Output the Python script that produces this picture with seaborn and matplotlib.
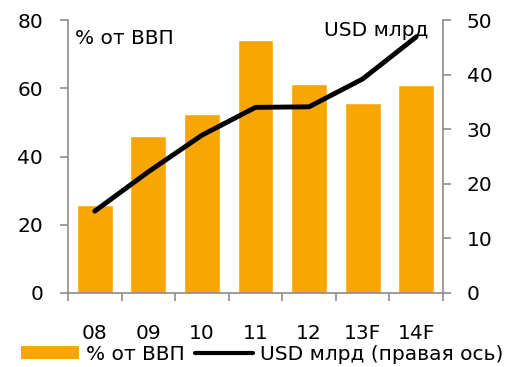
import numpy as np
import pandas as pd
import seaborn as sns
import matplotlib.pyplot as plt
from matplotlib.patches import Patch
from matplotlib.lines import Line2D

# data
years = ['08', '09', '10', '11', '12', '13F', '14F']
pct_gdp = [25.8, 46.0, 52.5, 74.2, 61.3, 55.7, 61.0]
usd_bn = [15.0, 22.2, 28.9, 34.0, 34.1, 39.2, 46.9]

orange = '#F9A602'
grey = '#8c8c8c'

sns.set_theme(style='white')
plt.rcParams['font.family'] = ['DejaVu Sans']
plt.rcParams['font.size'] = 11
plt.rcParams['text.color'] = 'black'
plt.rcParams['xtick.color'] = 'black'
plt.rcParams['ytick.color'] = 'black'

fs = 14.5

df = pd.DataFrame({'year': years, 'pct': pct_gdp, 'usd': usd_bn})

fig = plt.figure(figsize=(5.19, 3.67), dpi=100)
ax = fig.add_axes([68 / 519, 1 - 293 / 367, 375 / 519, 273 / 367])

sns.barplot(data=df, x='year', y='pct', color=orange, saturation=1,
            width=0.67, ax=ax)
ax.set_ylim(0, 80)
ax.set_yticks([0, 20, 40, 60, 80])
ax.set_xlim(-0.5, len(years) - 0.5)
ax.set_xlabel('')
ax.set_ylabel('')

ax2 = ax.twinx()
sns.lineplot(x=np.arange(len(years)), y=df['usd'], color='black',
             linewidth=3.5, ax=ax2)
ax2.set_ylim(0, 50)
ax2.set_yticks([0, 10, 20, 30, 40, 50])
ax2.set_ylabel('')
ax2.set_xlim(-0.5, len(years) - 0.5)

for a in (ax, ax2):
    for s in a.spines.values():
        s.set_visible(False)
ax.spines['left'].set_visible(True)
ax.spines['bottom'].set_visible(True)
ax2.spines['right'].set_visible(True)
for s in (ax.spines['left'], ax.spines['bottom'], ax2.spines['right']):
    s.set_color(grey)
    s.set_linewidth(1.2)

# category labels centred, tick marks between categories
ax.set_xticks(range(len(years)))
ax.set_xticklabels(years)
ax.set_xticks(np.arange(-0.5, len(years)), minor=True)
ax.tick_params(axis='x', which='major', length=0, pad=22, labelsize=fs,
               labelcolor='black')
ax.tick_params(axis='x', which='minor', length=6, width=1.2, color=grey,
               direction='out', bottom=True)
ax.tick_params(axis='y', length=6, width=1.2, color=grey, direction='out',
               left=True, pad=12, labelsize=fs, labelcolor='black')
ax2.tick_params(axis='y', length=6, width=1.2, color=grey, direction='out',
                right=True, pad=11, labelsize=fs, labelcolor='black')

ax.text(7 / 375, 1 - 18 / 273, '% от ВВП', transform=ax.transAxes,
        fontsize=fs, ha='left', va='center', color='black')
ax2.text(360 / 375, 1 - 11 / 273, 'USD млрд', transform=ax.transAxes,
         fontsize=fs, ha='right', va='center', color='black')

handles = [Patch(facecolor=orange, edgecolor='none'),
           Line2D([0], [0], color='black', linewidth=3)]
fig.legend(handles, ['% от ВВП', 'USD млрд (правая ось)'],
           loc='center', bbox_to_anchor=(0.505, 1 - 354 / 367), ncol=2,
           frameon=False, fontsize=fs, handlelength=2.9, handleheight=0.6,
           columnspacing=0.5, handletextpad=0.35, borderaxespad=0.0,
           borderpad=0.0)

fig.savefig('out.png', dpi=100)
